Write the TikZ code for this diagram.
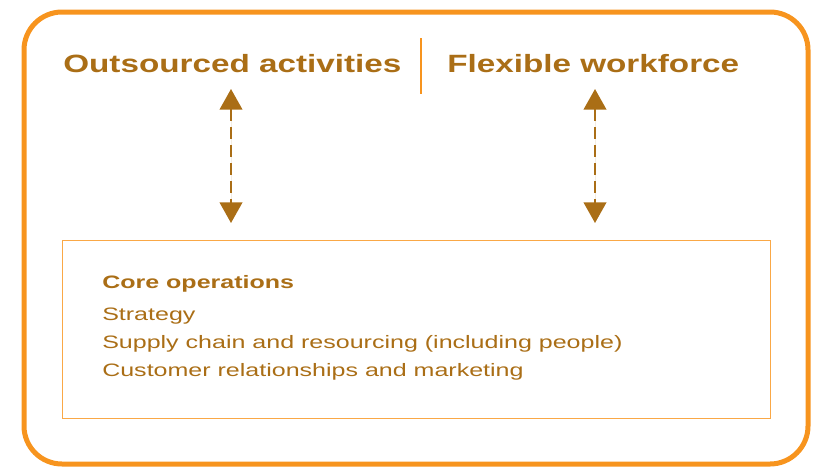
\documentclass[tikz,border=0pt]{standalone}
\usepackage{fontspec}
\setmainfont{Liberation Sans}[FakeStretch=1.3]
\newfontfamily\hfont{Liberation Sans}[FakeStretch=1.33]
\newfontfamily\bfont{Liberation Sans}[FakeStretch=1.39]
\usetikzlibrary{arrows.meta}
\definecolor{orangeB}{RGB}{247,148,30}
\definecolor{orangeL}{RGB}{250,168,70}
\definecolor{brownT}{RGB}{170,110,22}
\tikzset{
  head/.style={anchor=base west, inner sep=0pt, text=brownT, font=\hfont\fontsize{18.75pt}{22pt}\selectfont\bfseries},
  body/.style={anchor=base west, inner sep=0pt, text=brownT, font=\bfont\fontsize{13.5pt}{16pt}\selectfont},
  bodyb/.style={body, font=\bfont\fontsize{13.5pt}{16pt}\selectfont\bfseries},
  dblarrow/.style={draw=brownT, line width=1.5pt, dash pattern=on 9pt off 4.5pt,
    {Triangle[width=17pt,length=15.5pt]}-{Triangle[width=17pt,length=15.5pt]}, fill=brownT}
}
\begin{document}
\begin{tikzpicture}[x=0.75pt,y=-0.75pt]
\useasboundingbox (0,0) rectangle (813,468);
\draw[orangeB, line width=3.75pt, rounded corners=28.5pt] (24,12) rectangle (808,464);
\node[draw=orangeL, line width=1pt, minimum width=531pt, minimum height=133.5pt, inner sep=0pt, anchor=north west] (core) at (62,240) {};
\draw[orangeB, line width=1.5pt] (421,38) -- (421,94);
\node[head] (out) at (63,72) {Outsourced activities};
\node[head] (flex) at (447,72) {Flexible workforce};
\node[bodyb] (t0) at (102,288) {Core operations};
\node[body] (t1) at (102,320) {Strategy};
\node[body] (t2) at (102,348) {Supply chain and resourcing (including people)};
\node[body] (t3) at (102,376) {Customer relationships and marketing};
\coordinate (a1s) at (231,89);
\coordinate (a1e) at (231,223);
\coordinate (a2s) at (595,89);
\coordinate (a2e) at (595,223);
\draw[dblarrow] (a1s) -- (a1e);
\draw[dblarrow] (a2s) -- (a2e);
\end{tikzpicture}
\end{document}
